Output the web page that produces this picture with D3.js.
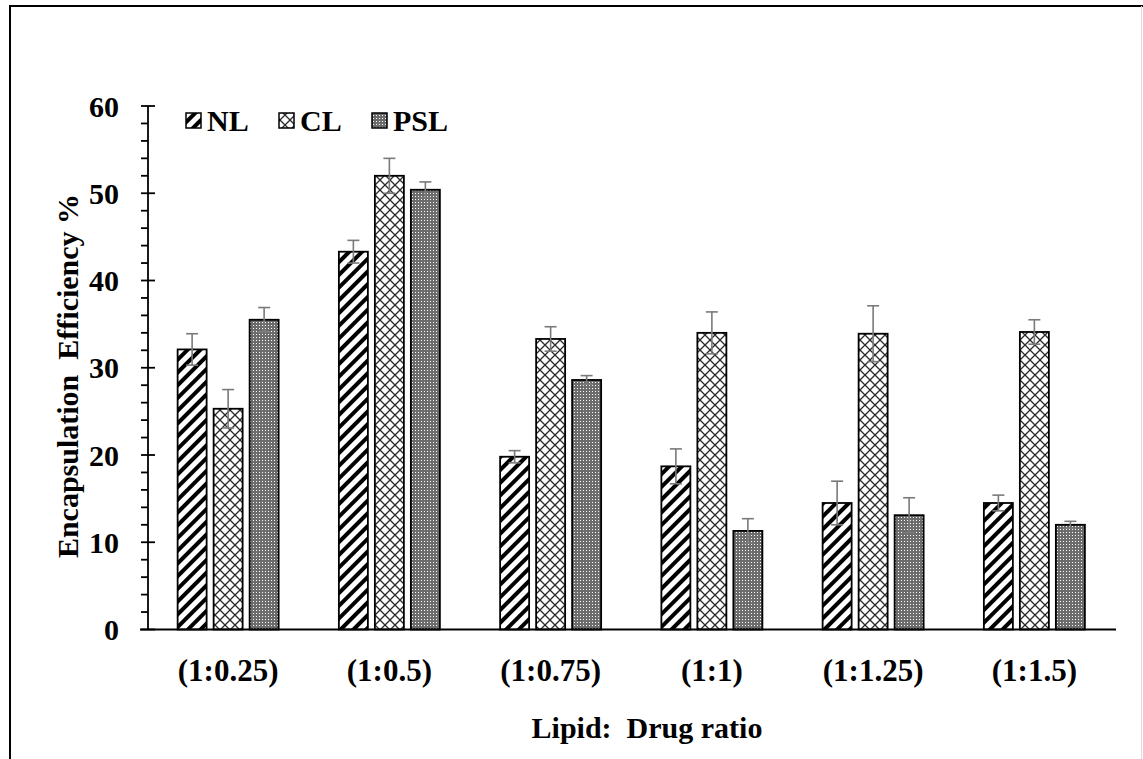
<!DOCTYPE html>
<html>
<head>
<meta charset="utf-8">
<script src="https://cdn.jsdelivr.net/npm/d3@7"></script>
<style>
  html, body { margin: 0; padding: 0; background: #fff; }
  svg { display: block; }
  text { font-family: "Liberation Serif", "Times New Roman", serif; font-weight: bold; fill: #000; }
</style>
</head>
<body>
<svg id="chart" width="1143" height="759"></svg>
<script>
// Lipid:drug ratios on the x axis
const categories = ["(1:0.25)", "(1:0.5)", "(1:0.75)", "(1:1)", "(1:1.25)", "(1:1.5)"];
// Liposome formulations
const seriesNames = ["NL", "CL", "PSL"];
// Encapsulation efficiency (%) per formulation
const nlValues  = [32.1, 43.3, 19.8, 18.7, 14.5, 14.5];
const clValues  = [25.3, 52.0, 33.3, 34.0, 33.9, 34.1];
const pslValues = [35.5, 50.4, 28.6, 11.3, 13.1, 12.0];
// Standard deviations
const nlErrors  = [1.8, 1.3, 0.7, 2.0, 2.5, 0.9];
const clErrors  = [2.2, 2.0, 1.4, 2.4, 3.2, 1.4];
const pslErrors = [1.4, 0.9, 0.5, 1.4, 2.0, 0.4];
// Y axis ticks
const yTicks = [0, 10, 20, 30, 40, 50, 60];

const series = [
  { name: seriesNames[0], values: nlValues,  errors: nlErrors,  fill: "url(#pat-nl)" },
  { name: seriesNames[1], values: clValues,  errors: clErrors,  fill: "url(#pat-cl)" },
  { name: seriesNames[2], values: pslValues, errors: pslErrors, fill: "url(#pat-psl)" }
];

const svg = d3.select("#chart");
const W = 1143, H = 759;

svg.append("rect").attr("width", W).attr("height", H).attr("fill", "#fff");

// Patterns
const defs = svg.append("defs");
const pNL = defs.append("pattern").attr("id", "pat-nl")
  .attr("patternUnits", "userSpaceOnUse").attr("width", 9).attr("height", 9)
  .attr("patternTransform", "rotate(45)");
pNL.append("rect").attr("width", 9).attr("height", 9).attr("fill", "#fff");
pNL.append("rect").attr("x", 0).attr("width", 4).attr("height", 9).attr("fill", "#000");

const pCL = defs.append("pattern").attr("id", "pat-cl")
  .attr("patternUnits", "userSpaceOnUse").attr("width", 10).attr("height", 10);
pCL.append("rect").attr("width", 10).attr("height", 10).attr("fill", "#fff");
pCL.append("path").attr("d", "M0,0L10,10M10,0L0,10")
  .attr("stroke", "#2a2a2a").attr("stroke-width", 1.3).attr("fill", "none");

const pPSL = defs.append("pattern").attr("id", "pat-psl")
  .attr("patternUnits", "userSpaceOnUse").attr("width", 3).attr("height", 3);
pPSL.append("rect").attr("width", 3).attr("height", 3).attr("fill", "#6c6c6c");
pPSL.append("rect").attr("x", 1).attr("y", 1).attr("width", 1).attr("height", 1).attr("fill", "#fff");

// Outer frame
svg.append("path").attr("d", "M10,759V6H1143")
  .attr("fill", "none").attr("stroke", "#000").attr("stroke-width", 2);
svg.append("line").attr("x1", 1141.5).attr("x2", 1141.5).attr("y1", 6).attr("y2", 759)
  .attr("stroke", "#ddd").attr("stroke-width", 1);

// Scales
const x0 = d3.scaleBand().domain(categories).range([147.5, 1115]).paddingInner(0).paddingOuter(0);
const y = d3.scaleLinear().domain([0, 60]).range([629.5, 106]);
const barW = 29, barStep = 36;
const offset = i => (i - 1) * barStep;

const axisX = 148;

// Bars
series.forEach((s, si) => {
  svg.append("g").selectAll("rect").data(categories).join("rect")
    .attr("x", c => x0(c) + x0.bandwidth() / 2 + offset(si) - barW / 2)
    .attr("y", (c, i) => y(s.values[i]))
    .attr("width", barW)
    .attr("height", (c, i) => y(0) - y(s.values[i]))
    .attr("fill", s.fill)
    .attr("stroke", "#000").attr("stroke-width", 1.8);
});

// Error bars
series.forEach((s, si) => {
  const g = svg.append("g").attr("stroke", "#7a7a7a").attr("stroke-width", 1.6).attr("fill", "none");
  categories.forEach((c, i) => {
    const cx = x0(c) + x0.bandwidth() / 2 + offset(si);
    const hi = y(s.values[i] + s.errors[i]);
    const lo = y(s.values[i] - s.errors[i]);
    g.append("line").attr("x1", cx).attr("x2", cx).attr("y1", hi).attr("y2", lo);
    g.append("line").attr("x1", cx - 6).attr("x2", cx + 6).attr("y1", hi).attr("y2", hi);
    g.append("line").attr("x1", cx - 6).attr("x2", cx + 6).attr("y1", lo).attr("y2", lo);
  });
});

// Y axis with major ticks crossing the line and minor ticks every 2
const yAxis = svg.append("g").attr("stroke", "#000").attr("stroke-width", 1.8);
yAxis.append("line").attr("x1", axisX).attr("x2", axisX).attr("y1", y(60)).attr("y2", y(0));
d3.range(0, 61, 2).forEach(v => {
  const major = v % 10 === 0;
  yAxis.append("line")
    .attr("x1", axisX - 7).attr("x2", major ? axisX + 7 : axisX)
    .attr("y1", y(v)).attr("y2", y(v));
});
svg.append("g").selectAll("text").data(yTicks).join("text")
  .attr("x", 119).attr("y", d => y(d)).attr("dy", "0.35em")
  .attr("text-anchor", "end").style("font-size", "30px").text(d => d);

// X axis
svg.append("line").attr("x1", 140).attr("x2", 1116).attr("y1", y(0)).attr("y2", y(0))
  .attr("stroke", "#000").attr("stroke-width", 1.8);
svg.append("g").selectAll("text").data(categories).join("text")
  .attr("x", c => x0(c) + x0.bandwidth() / 2).attr("y", 681)
  .attr("text-anchor", "middle").style("font-size", "31px").text(c => c);

// Axis titles
svg.append("text").attr("x", 647).attr("y", 738).attr("text-anchor", "middle")
  .style("font-size", "30px").attr("xml:space", "preserve").text("Lipid:  Drug ratio");
svg.append("text").attr("transform", "translate(78,376) rotate(-90)")
  .attr("text-anchor", "middle").style("font-size", "30px")
  .attr("xml:space", "preserve").text("Encapsulation  Efficiency %");

// Legend
const legendX = [186, 279, 372];
const legend = svg.append("g");
series.forEach((s, si) => {
  legend.append("rect").attr("x", legendX[si]).attr("y", 113).attr("width", 15).attr("height", 15)
    .attr("fill", s.fill).attr("stroke", "#000").attr("stroke-width", 1.5);
  legend.append("text").attr("x", legendX[si] + 21).attr("y", 131)
    .style("font-size", "30px").text(s.name);
});
</script>
</body>
</html>
